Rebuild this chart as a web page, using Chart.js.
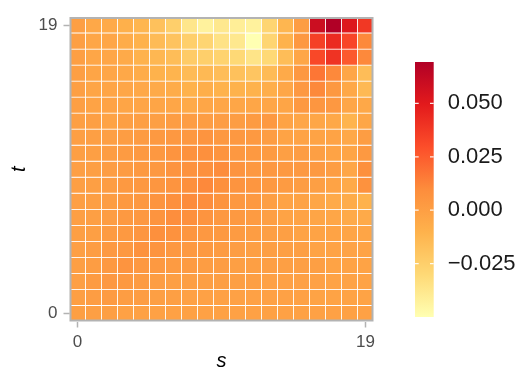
<!DOCTYPE html>
<html><head><meta charset="utf-8">
<script src="https://cdn.jsdelivr.net/npm/chart.js@4/dist/chart.umd.min.js"></script>
<style>
html,body{margin:0;padding:0;background:#fff;width:526px;height:380px;overflow:hidden}
#wrap{position:relative;width:526px;height:380px}
#heat{position:absolute;left:0;top:0}
#bar{position:absolute;left:400px;top:0}
</style></head><body>
<div id="wrap"><canvas id="heat" width="400" height="380"></canvas><canvas id="bar" width="126" height="380"></canvas></div>
<script>
// ---- data ----
const sTickLabels = ['0', '19'];
const tTickLabels = ['0', '19'];
const xAxisTitle = 's';
const yAxisTitle = 't';
const legendTicks = [-0.025, 0, 0.025, 0.05];
const ylOrRd = ['#FFFFB2', '#FED976', '#FEB24C', '#FD8D3C', '#FC4E2A', '#E31A1C', '#B10026'];
// rows listed from the top row (highest t) down to the bottom row (t = 0)
const zTopDown = [
  [0.000,-0.005,-0.006,-0.009,-0.012,-0.018,-0.025,-0.037,-0.043,-0.038,-0.041,-0.043,-0.028,-0.012,0.001,0.059,0.0694,0.052,0.038],
  [0.000,-0.004,-0.004,-0.007,-0.010,-0.015,-0.019,-0.025,-0.028,-0.035,-0.038,-0.050,-0.028,-0.010,0.004,0.035,0.043,0.033,0.011],
  [0.000,-0.004,-0.004,-0.006,-0.010,-0.013,-0.016,-0.023,-0.025,-0.027,-0.030,-0.036,-0.030,-0.016,-0.004,0.032,0.040,0.026,0.011],
  [0.000,-0.003,-0.004,-0.005,-0.007,-0.010,-0.011,-0.015,-0.014,-0.016,-0.018,-0.020,-0.015,-0.006,0.004,0.017,0.011,-0.004,-0.016],
  [0.000,-0.003,-0.003,-0.004,-0.005,-0.006,-0.007,-0.010,-0.008,-0.010,-0.010,-0.010,-0.008,-0.004,0.004,0.011,0.004,-0.005,-0.014],
  [0.000,-0.002,-0.002,-0.003,-0.003,-0.003,-0.004,-0.006,-0.004,-0.004,-0.004,-0.004,-0.004,-0.003,0.003,0.005,0.004,-0.004,-0.005],
  [0.000,0.000,-0.002,0.000,0.000,0.000,0.001,0.001,0.001,0.001,0.001,0.002,0.003,-0.002,-0.004,-0.004,-0.005,-0.011,-0.004],
  [0.000,0.000,0.000,0.001,0.002,0.003,0.004,0.004,0.006,0.004,0.004,0.003,0.001,-0.002,-0.002,-0.002,-0.002,-0.005,0.001],
  [0.000,0.000,0.001,0.002,0.003,0.004,0.006,0.007,0.008,0.006,0.004,0.003,0.002,0.000,0.001,0.000,-0.002,-0.003,0.003],
  [0.000,0.000,0.001,0.002,0.003,0.004,0.006,0.007,0.008,0.010,0.006,0.004,0.004,0.003,0.003,0.003,0.001,-0.004,0.008],
  [0.000,0.000,0.001,0.003,0.004,0.005,0.006,0.008,0.011,0.008,0.006,0.005,0.003,0.002,0.001,0.000,-0.002,-0.006,0.007],
  [0.000,0.000,0.001,0.003,0.004,0.006,0.008,0.010,0.009,0.006,0.004,0.003,0.000,-0.002,-0.002,-0.004,-0.006,-0.007,-0.010],
  [0.000,0.000,0.001,0.003,0.004,0.006,0.009,0.008,0.006,0.004,0.003,0.002,0.000,-0.002,-0.002,-0.003,-0.004,-0.006,-0.006],
  [0.000,0.000,0.002,0.003,0.005,0.008,0.007,0.005,0.004,0.003,0.002,0.001,0.000,0.000,-0.002,-0.002,-0.002,-0.003,-0.003],
  [0.000,0.001,0.003,0.004,0.007,0.006,0.004,0.003,0.003,0.002,0.001,0.000,0.000,0.000,0.000,-0.002,-0.002,-0.002,-0.002],
  [0.000,0.001,0.003,0.006,0.004,0.003,0.002,0.002,0.001,0.001,0.000,0.000,0.000,0.000,0.000,0.000,-0.002,-0.002,-0.002],
  [0.000,0.002,0.004,0.003,0.002,0.001,0.000,0.000,0.000,0.000,0.000,0.000,-0.001,-0.001,-0.001,-0.001,-0.002,-0.002,-0.002],
  [0.000,0.001,0.002,0.001,0.001,0.000,0.000,-0.001,-0.001,-0.001,-0.001,-0.001,-0.001,-0.001,-0.001,-0.002,-0.002,-0.002,-0.002],
  [0.000,0.000,0.000,-0.001,-0.001,-0.001,-0.001,-0.001,-0.001,-0.001,-0.001,-0.001,-0.001,-0.001,-0.001,-0.001,-0.001,-0.001,-0.001]
];

// ---- helpers ----
const FONT = "'Liberation Sans', Arial, sans-serif";
const nRows = zTopDown.length, nCols = zTopDown[0].length;
const flat = zTopDown.flat();
const zMin = Math.min(...flat), zMax = Math.max(...flat);
function hexToRgb(h) { const n = parseInt(h.slice(1), 16); return [(n >> 16) & 255, (n >> 8) & 255, n & 255]; }
const palRgb = ylOrRd.map(hexToRgb);
function colorFor(v) {
  let f = (v - zMin) / (zMax - zMin);
  f = Math.max(0, Math.min(1, f));
  const p = f * (palRgb.length - 1);
  const i = Math.min(Math.floor(p), palRgb.length - 2);
  const u = p - i, a = palRgb[i], b = palRgb[i + 1];
  return 'rgb(' + [0, 1, 2].map(k => Math.round(a[k] + (b[k] - a[k]) * u)).join(',') + ')';
}

const colLabels = zTopDown[0].map((_, j) => String(j));
const datasets = zTopDown.map((row, i) => {
  const t = nRows - 1 - i;
  return {
    data: row.map(() => [t - 0.5, t + 0.5]),
    backgroundColor: row.map(colorFor),
    borderColor: '#ffffff',
    borderWidth: 0.75,
    borderSkipped: false,
    grouped: false,
    barPercentage: 1,
    categoryPercentage: 1
  };
});

const framePlugin = {
  id: 'frame',
  afterDatasetsDraw(chart) {
    const { ctx, chartArea: a } = chart;
    ctx.save();
    ctx.strokeStyle = '#b3b3b3';
    ctx.lineWidth = 2;
    ctx.strokeRect(a.left + 1, a.top + 1, a.right - a.left - 2, a.bottom - a.top - 2);
    ctx.restore();
  }
};

new Chart(document.getElementById('heat'), {
  type: 'bar',
  data: { labels: colLabels, datasets },
  options: {
    responsive: false,
    animation: false,
    layout: { padding: { top: 17, right: 26.5, left: 0, bottom: 0 } },
    plugins: { legend: { display: false }, tooltip: { enabled: false } },
    scales: {
      x: {
        type: 'category',
        offset: true,
        afterBuildTicks: s => { s.ticks = [s.ticks[0], s.ticks[s.ticks.length - 1]]; },
        afterFit: s => { s.height = 58.5; },
        grid: { display: true, offset: false, drawOnChartArea: false, drawTicks: true, tickLength: 6, tickColor: '#b3b3b3', tickWidth: 1.5 },
        border: { display: false },
        ticks: { autoSkip: false, maxRotation: 0, padding: 5, color: '#4d4d4d', font: { family: FONT, size: 17 }, callback: (v, i) => sTickLabels[i] },
        title: { display: true, text: xAxisTitle, color: '#000', font: { family: FONT, size: 20, style: 'italic' }, padding: { top: 0, bottom: 7 } }
      },
      y: {
        type: 'linear',
        min: -0.5,
        max: nRows - 0.5,
        afterBuildTicks: s => { s.ticks = [{ value: 0 }, { value: nRows - 1 }]; },
        afterFit: s => { s.width = 69.5; },
        grid: { display: true, drawOnChartArea: false, drawTicks: true, tickLength: 6, tickColor: '#b3b3b3', tickWidth: 1.5 },
        border: { display: false },
        ticks: { padding: 6, color: '#4d4d4d', font: { family: FONT, size: 17 }, callback: (v, i) => tTickLabels[i] },
        title: { display: true, text: yAxisTitle, color: '#000', font: { family: FONT, size: 20, style: 'italic' }, padding: { top: 7, bottom: 0 } }
      }
    }
  },
  plugins: [framePlugin]
});

// ---- colour bar ----
const cbTickPlugin = {
  id: 'cbticks',
  afterDatasetsDraw(chart) {
    const y = chart.scales.y, a = chart.chartArea, ctx = chart.ctx;
    ctx.save();
    ctx.strokeStyle = 'rgba(255,255,255,0.9)';
    ctx.lineWidth = 1.2;
    legendTicks.forEach(v => {
      const py = y.getPixelForValue(v);
      ctx.beginPath();
      ctx.moveTo(a.left, py); ctx.lineTo(a.left + 3.7, py);
      ctx.moveTo(a.right - 3.7, py); ctx.lineTo(a.right, py);
      ctx.stroke();
    });
    ctx.restore();
  }
};

function gradFill(context) {
  const ca = context.chart.chartArea;
  if (!ca) return ylOrRd[3];
  const g = context.chart.ctx.createLinearGradient(0, ca.bottom, 0, ca.top);
  ylOrRd.forEach((c, i) => g.addColorStop(i / (ylOrRd.length - 1), c));
  return g;
}

new Chart(document.getElementById('bar'), {
  type: 'bar',
  data: { labels: ['z'], datasets: [{ data: [[zMin, zMax]], backgroundColor: gradFill, borderWidth: 0, barPercentage: 1, categoryPercentage: 1 }] },
  options: {
    responsive: false,
    animation: false,
    layout: { padding: { left: 15, top: 62, bottom: 63, right: 0 } },
    plugins: { legend: { display: false }, tooltip: { enabled: false } },
    scales: {
      x: { display: false },
      y: {
        position: 'right',
        min: zMin,
        max: zMax,
        afterBuildTicks: s => { s.ticks = legendTicks.map(v => ({ value: v })); },
        afterFit: s => { s.width = 92.3; },
        grid: { display: false, drawTicks: false },
        border: { display: false },
        ticks: { padding: 14, color: '#1a1a1a', font: { family: FONT, size: 22 }, callback: v => (v < 0 ? '\u2212' : '') + Math.abs(v).toFixed(3) }
      }
    }
  },
  plugins: [cbTickPlugin]
});
</script>
</body></html>
